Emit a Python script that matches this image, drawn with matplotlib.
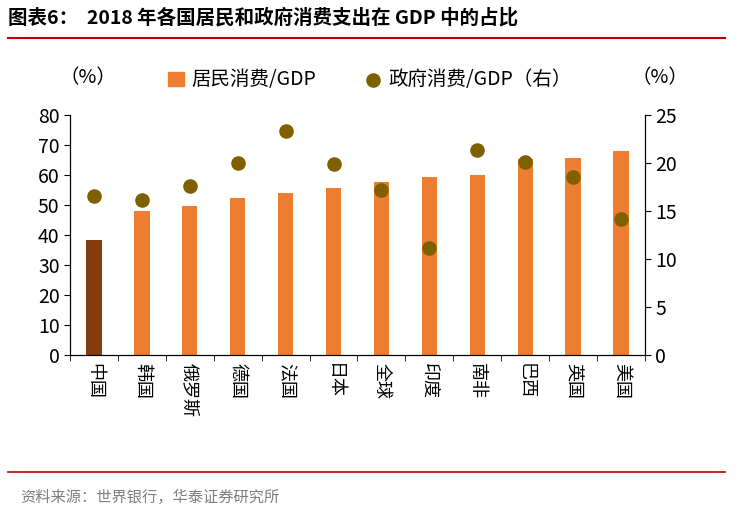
import matplotlib
matplotlib.use("Agg")
import matplotlib.pyplot as plt
from matplotlib.patches import Patch

plt.rcParams['font.family'] = ['Noto Sans CJK SC', 'DejaVu Sans']

countries = ["中国", "韩国", "俄罗斯", "德国", "法国", "日本", "全球", "印度", "南非", "巴西", "英国", "美国"]
household = [38.3, 48.0, 49.7, 52.3, 54.0, 55.7, 57.7, 59.3, 60.0, 65.3, 65.7, 68.0]
government = [16.6, 16.1, 17.6, 20.0, 23.3, 19.9, 17.2, 11.1, 21.4, 20.1, 18.5, 14.2]

fig = plt.figure(figsize=(7.41, 5.23), dpi=100)
ax = fig.add_axes([70/741, 1-355/523, 575/741, 240/523])
ax2 = ax.twinx()

x = range(len(countries))
colors = ["#843C0C"] + ["#ED7D31"] * (len(countries) - 1)
ax.bar(x, household, width=0.32, color=colors)
sc = ax2.scatter(x, government, s=90, color="#7F6000", zorder=3)

ax.set_ylim(0, 80)
ax.set_yticks(range(0, 81, 10))
ax2.set_ylim(0, 25)
ax2.set_yticks(range(0, 26, 5))
ax.set_xlim(-0.5, len(countries) - 0.5)
ax.set_xticks(list(x))
ax.set_xticklabels(countries, fontsize=13, rotation=-90, va="top", ha="center")
ax.set_xticks([i + 0.5 for i in range(-1, len(countries))], minor=True)
ax.tick_params(axis="x", which="major", length=0, pad=6)
ax.tick_params(axis="x", which="minor", length=4)
for a in (ax, ax2):
    a.tick_params(axis="y", labelsize=14, direction="out", length=4)
    a.spines["top"].set_visible(False)

fig.text(88/741, 1-78/523, "（%）", fontsize=14, ha="center", va="center")
fig.text(660/741, 1-78/523, "（%）", fontsize=14, ha="center", va="center")

handles = [Patch(color="#ED7D31"), sc]
fig.legend(handles, ["居民消费/GDP", "政府消费/GDP（右）"], loc="center",
           bbox_to_anchor=(370/741, 1-80/523), ncol=2, frameon=False, fontsize=14,
           handlelength=0.8, columnspacing=2.5, handletextpad=0.4)

fig.text(8/741, 1-18/523, "图表6：  2018 年各国居民和政府消费支出在 GDP 中的占比",
         fontsize=14, fontweight="bold", va="center", ha="left")
fig.add_artist(plt.Line2D([8/741, 725/741], [1-38/523, 1-38/523], color="#C00000", lw=1.5))
fig.add_artist(plt.Line2D([8/741, 725/741], [1-472/523, 1-472/523], color="#C00000", lw=1.2))
fig.text(20/741, 1-497/523, "资料来源：世界银行，华泰证券研究所", fontsize=11, color="#7F7F7F",
         va="center", ha="left")

fig.savefig("out.png", dpi=100)
